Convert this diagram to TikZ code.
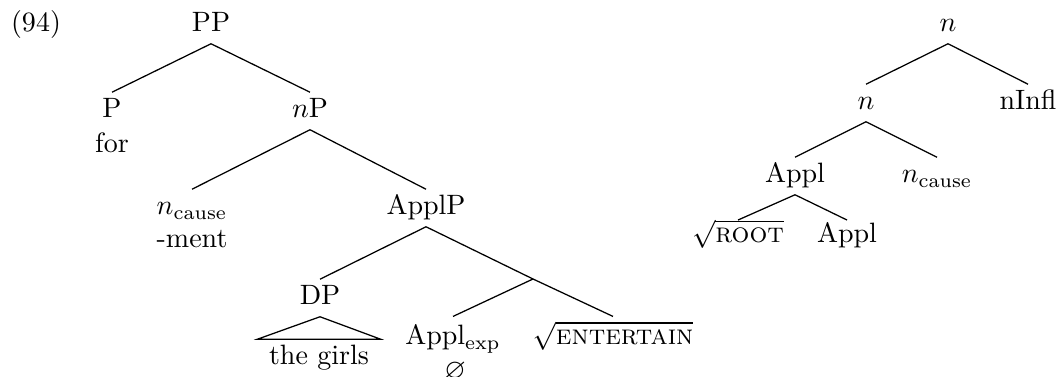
\documentclass[tikz,border=0pt]{standalone}
\usepackage{amsmath,amssymb}
\begin{document}
\begin{tikzpicture}[x=0.3571pt,y=-0.3571pt,
  lab/.style={anchor=base,text height=7pt,text depth=2pt,inner sep=2pt},
  lex/.style={anchor=base,inner sep=1pt},
  branch/.style={line width=0.45pt}]
\useasboundingbox (0,0) rectangle (1062,377);

\node[anchor=base] (exnum) at (36,32) {(94)};

% left tree
\node[lab] (PP) at (211,32) {PP};
\node[lab] (P) at (112,118) {P};
\node[lex] (for) at (112,153) {for};
\node[lab] (nP) at (310,118) {$n$P};
\node[lab] (ncause) at (192,215) {$n_{\text{cause}}$};
\node[lex] (ment) at (192,248) {-ment};
\node[lab] (ApplP) at (426,215) {ApplP};
\node[lab] (DP) at (320,305) {DP};
\node[lex,inner xsep=4pt,inner ysep=2pt,text height=7pt] (girls) at (319,365) {the girls};
\coordinate (applbar) at (533,279);
\node[lab,text height=8pt] (Applexp) at (453,345) {Appl$_{\text{exp}}$};
\node[lex] (null) at (455,379) {$\varnothing$};
\node[lab,text height=8pt] (entertain) at (613,345) {$\sqrt{\textsc{entertain}}$};

\draw[branch] (PP.south) -- (P.north);
\draw[branch] (PP.south) -- (nP.north);
\draw[branch] (nP.south) -- (ncause.north);
\draw[branch] (nP.south) -- (ApplP.north);
\draw[branch] (ApplP.south) -- (DP.north);
\draw[branch] (ApplP.south) -- (applbar);
\draw[branch] (applbar) -- (Applexp.north);
\draw[branch] (applbar) -- (entertain.north);
\draw[branch] (DP.south) -- (girls.north west) -- (girls.north east) -- cycle;

% right tree
\node[lab] (n1) at (948,32) {$n$};
\node[lab] (n2) at (866,110) {$n$};
\node[lab] (nInfl) at (1028,110) {nInfl};
\node[lab] (Appl1) at (795,183) {Appl};
\node[lab] (ncause2) at (937,183) {$n_{\text{cause}}$};
\node[lab,text height=6pt] (root) at (738,243) {$\sqrt{\textsc{root}}$};
\node[lab,text height=6pt] (Appl2) at (847,243) {Appl};

\draw[branch] (n1.south) -- (n2.north);
\draw[branch] (n1.south) -- (nInfl.north);
\draw[branch] (n2.south) -- (Appl1.north);
\draw[branch] (n2.south) -- (ncause2.north);
\draw[branch] (Appl1.south) -- (root.north);
\draw[branch] (Appl1.south) -- (Appl2.north);
\end{tikzpicture}
\end{document}
